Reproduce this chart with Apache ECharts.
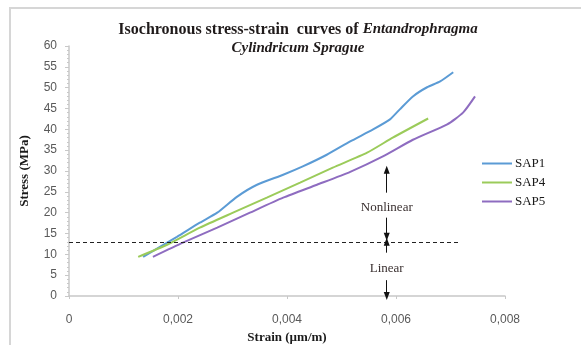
<!DOCTYPE html>
<html>
<head>
<meta charset="utf-8">
<script src="https://cdn.jsdelivr.net/npm/echarts@6/dist/echarts.min.js"></script>
<style>
  html, body { margin: 0; padding: 0; background: #fff; }
  #chart { width: 581px; height: 345px; }
</style>
</head>
<body>
<div id="chart"></div>
<script>
// Strain (µm/m) and stress (MPa) samples per specimen
const sap1Strain = [0.00136, 0.00198, 0.00240, 0.00272, 0.00308, 0.00345, 0.00393, 0.00429, 0.00473, 0.00516, 0.00558, 0.00589, 0.00607, 0.00631, 0.00657, 0.00681, 0.00705];
const sap1Stress = [9.4, 14.2, 17.6, 20.0, 23.8, 26.7, 29.1, 31.1, 33.9, 37.1, 40.0, 42.4, 44.8, 47.9, 50.1, 51.5, 53.7];

const sap4Strain = [0.00127, 0.00180, 0.00240, 0.00301, 0.00363, 0.00424, 0.00484, 0.00547, 0.00594, 0.00659];
const sap4Stress = [9.4, 12.3, 16.4, 20.0, 23.6, 27.2, 30.8, 34.4, 38.0, 42.6];

const sap5Strain = [0.00154, 0.00209, 0.00272, 0.00332, 0.00393, 0.00455, 0.00516, 0.00576, 0.00631, 0.00694, 0.00723, 0.00745];
const sap5Stress = [9.4, 12.8, 16.4, 20.0, 23.6, 26.7, 29.8, 33.5, 37.5, 41.2, 44.0, 47.9];

const seriesNames = ['SAP1', 'SAP4', 'SAP5'];
const seriesColors = ['#5b9bd5', '#9bcb5a', '#8e6cc0'];

// Linear / nonlinear boundary and annotation positions
const limitStress = 13;
const limitEnd = 0.00717;
const arrowStrain = 0.00583;
const nonlinearArrowUp = [24.8, 30.3];
const nonlinearArrowDown = [18.8, 14.2];
const linearArrowUp = [10.4, 13.0];
const linearArrowDown = [3.8, 0];
const nonlinearLabelY = 21.2;
const linearLabelY = 6.7;

const xTicks = { min: 0, max: 0.008, interval: 0.002 };
const yTicks = { min: 0, max: 60, interval: 5 };

const pair = (xs, ys) => xs.map((x, i) => [x, ys[i]]);
const seriesData = [pair(sap1Strain, sap1Stress), pair(sap4Strain, sap4Stress), pair(sap5Strain, sap5Stress)];

const serif = '"Liberation Serif", "Times New Roman", serif';
const sans = '"Liberation Sans", Arial, sans-serif';

const arrow = (from, to) => [
  { coord: [arrowStrain, from], symbol: 'none', lineStyle: { color: '#111', width: 1, type: 'solid' } },
  { coord: [arrowStrain, to], symbol: 'triangle', symbolSize: [6, 8] }
];

const chart = echarts.init(document.getElementById('chart'), null, { renderer: 'canvas' });

const lineSeries = seriesNames.map((name, i) => ({
  name: name,
  type: 'line',
  data: seriesData[i],
  showSymbol: false,
  smooth: 0.2,
  lineStyle: { color: seriesColors[i], width: 2 },
  itemStyle: { color: seriesColors[i] },
  z: 3
}));

lineSeries.push({
  name: 'annotations',
  type: 'line',
  data: [],
  silent: true,
  markLine: {
    silent: true,
    symbol: ['none', 'none'],
    animation: false,
    label: { show: false },
    data: [
      [
        { coord: [0, limitStress], lineStyle: { type: [4, 3], color: '#222', width: 1 } },
        { coord: [limitEnd, limitStress] }
      ],
      arrow(nonlinearArrowUp[0], nonlinearArrowUp[1]),
      arrow(nonlinearArrowDown[0], nonlinearArrowDown[1]),
      arrow(linearArrowUp[0], linearArrowUp[1]),
      arrow(linearArrowDown[0], linearArrowDown[1])
    ]
  },
  markPoint: {
    silent: true,
    symbol: 'rect',
    symbolSize: 0.1,
    animation: false,
    itemStyle: { color: 'rgba(0,0,0,0)' },
    label: {
      show: true,
      position: 'inside',
      fontFamily: serif,
      fontSize: 13,
      color: '#3a3030'
    },
    data: [
      { coord: [arrowStrain, nonlinearLabelY], value: 'Nonlinear', label: { formatter: 'Nonlinear' } },
      { coord: [arrowStrain, linearLabelY], value: 'Linear', label: { formatter: 'Linear' } }
    ]
  }
});

chart.setOption({
  animation: false,
  backgroundColor: '#ffffff',
  graphic: [
    {
      type: 'rect',
      shape: { x: 10, y: 8, width: 600, height: 360 },
      style: { fill: 'none', stroke: '#d6d6d6', lineWidth: 2 },
      silent: true,
      z: -10
    }
  ],
  title: {
    text: '{b|Isochronous stress-strain  curves of }{i|Entandrophragma}\n{i|Cylindricum Sprague}',
    left: 293,
    top: 15,
    textAlign: 'center',
    textStyle: {
      rich: {
        b: { fontFamily: serif, fontWeight: 'bold', fontSize: 16, color: '#1f1a1a', lineHeight: 19 },
        i: { fontFamily: serif, fontWeight: 'bold', fontStyle: 'italic', fontSize: 15, color: '#1f1a1a', lineHeight: 19 }
      }
    }
  },
  legend: {
    data: seriesNames,
    orient: 'vertical',
    left: 477,
    top: 152,
    itemWidth: 30,
    itemHeight: 8,
    itemGap: 6,
    icon: 'path://M0,3 L30,3 L30,5 L0,5 Z',
    textStyle: { fontFamily: serif, fontSize: 13, lineHeight: 13, color: '#1a1a1a', padding: [0, 0, 0, -2] }
  },
  grid: { left: 69, right: 76, top: 46, bottom: 49, outerBoundsMode: 'none', containLabel: false },
  xAxis: {
    type: 'value',
    min: xTicks.min,
    max: xTicks.max,
    interval: xTicks.interval,
    name: 'Strain (µm/m)',
    nameLocation: 'middle',
    nameGap: 33,
    nameTextStyle: { fontFamily: serif, fontWeight: 'bold', fontSize: 13, color: '#1a1a1a' },
    axisLine: { show: true, lineStyle: { color: '#c8c8c8', width: 1.5 } },
    axisTick: { show: true, length: 3, lineStyle: { color: '#c8c8c8' } },
    splitLine: { show: false },
    axisLabel: {
      margin: 18,
      fontFamily: sans,
      fontSize: 12,
      color: '#595959',
      formatter: v => (v === 0 ? '0' : v.toFixed(3).replace('.', ','))
    }
  },
  yAxis: {
    type: 'value',
    min: yTicks.min,
    max: yTicks.max,
    interval: yTicks.interval,
    name: 'Stress (MPa)',
    nameLocation: 'middle',
    nameGap: 38,
    nameTextStyle: { fontFamily: serif, fontWeight: 'bold', fontSize: 13, color: '#1a1a1a' },
    axisLine: { show: true, lineStyle: { color: '#c8c8c8', width: 1.5 } },
    axisTick: { show: true, length: 4, lineStyle: { color: '#c8c8c8' } },
    minorTick: { show: true, splitNumber: 5, length: 2, lineStyle: { color: '#c8c8c8' } },
    splitLine: { show: false },
    axisLabel: { margin: 12, fontFamily: sans, fontSize: 12, color: '#595959' }
  },
  series: lineSeries
});
</script>
</body>
</html>
